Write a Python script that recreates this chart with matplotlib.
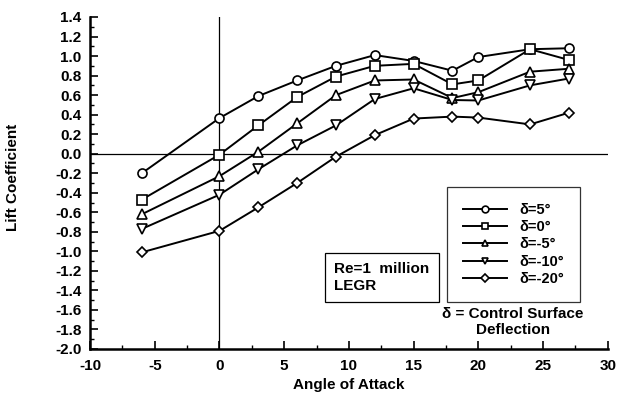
import matplotlib
matplotlib.use("Agg")
import matplotlib.pyplot as plt
from matplotlib.ticker import MultipleLocator, FormatStrFormatter

plt.rcParams["font.family"] = ["Liberation Sans", "DejaVu Sans"]
plt.rcParams["font.weight"] = "bold"
plt.rcParams["axes.unicode_minus"] = False

alpha = [-6, 0, 3, 6, 9, 12, 15, 18, 20, 24, 27]

cl_p5 = [-0.20, 0.365, 0.59, 0.75, 0.90, 1.01, 0.95, 0.85, 0.99, 1.07, 1.08]
cl_0 = [-0.47, -0.01, 0.29, 0.58, 0.79, 0.90, 0.92, 0.71, 0.75, 1.07, 0.96]
cl_m5 = [-0.62, -0.23, 0.02, 0.31, 0.60, 0.75, 0.76, 0.57, 0.63, 0.84, 0.87]
cl_m10 = [-0.77, -0.42, -0.16, 0.085, 0.29, 0.56, 0.67, 0.55, 0.545, 0.70, 0.77]
cl_m20 = [-1.01, -0.79, -0.55, -0.30, -0.03, 0.19, 0.36, 0.38, 0.37, 0.30, 0.42]

series = [
    (cl_p5, "o", "\u03b4=5\u00b0"),
    (cl_0, "s", "\u03b4=0\u00b0"),
    (cl_m5, "^", "\u03b4=-5\u00b0"),
    (cl_m10, "v", "\u03b4=-10\u00b0"),
    (cl_m20, "D", "\u03b4=-20\u00b0"),
]

fig = plt.figure(figsize=(6.17, 4.0), dpi=100)
ax = fig.add_axes([0.146, 0.1275, 0.839, 0.83])

# zero reference lines
ax.axhline(0, color="black", lw=0.9, zorder=1)
ax.axvline(0, color="black", lw=0.9, zorder=1)

for vals, mk, lab in series:
    ms = 5.5 if mk == "D" else 6.5
    ax.plot(alpha, vals, color="black", lw=1.4, marker=mk, ms=ms,
            mfc="white", mec="black", mew=1.2, label=lab, zorder=3)

ax.set_xlim(-10, 30)
ax.set_ylim(-2.0, 1.4)
ax.xaxis.set_major_locator(MultipleLocator(5))
ax.xaxis.set_minor_locator(MultipleLocator(2.5))
ax.yaxis.set_major_locator(MultipleLocator(0.2))
ax.yaxis.set_minor_locator(MultipleLocator(0.1))
ax.yaxis.set_major_formatter(FormatStrFormatter("%.1f"))

for side in ("top", "right"):
    ax.spines[side].set_visible(False)
for side in ("left", "bottom"):
    ax.spines[side].set_linewidth(1.8)

ax.tick_params(which="major", direction="in", length=6, width=1.2,
               labelsize=11)
ax.tick_params(axis="x", which="major", pad=7)
ax.tick_params(axis="y", which="major", pad=6)
ax.tick_params(which="minor", direction="in", length=3, width=1.0)

ax.set_xlabel("Angle of Attack", fontsize=11, fontweight="bold")
ax.xaxis.set_label_coords(0.5, -0.088)
ax.set_ylabel("Lift Coefficient", fontsize=11, fontweight="bold")
ax.yaxis.set_label_coords(-0.135, 0.518)

leg = ax.legend(loc="upper left", bbox_to_anchor=(0.689, 0.488),
                frameon=True, fancybox=False, edgecolor="black",
                fontsize=10.5, handlelength=3.0, borderpad=1.1,
                labelspacing=0.22, handletextpad=0.9, markerscale=0.75,
                borderaxespad=0)
leg.get_frame().set_linewidth(0.9)
for h in leg.get_lines():
    h.set_linewidth(1.4)

ax.text(0.817, 0.125, "\u03b4 = Control Surface\nDeflection", transform=ax.transAxes,
        ha="center", va="top", fontsize=11, fontweight="bold",
        linespacing=1.1)

ax.text(0.472, 0.215, "Re=1  million\nLEGR", transform=ax.transAxes,
        ha="left", va="center", fontsize=11, fontweight="bold",
        linespacing=1.3,
        bbox=dict(boxstyle="square,pad=0.6", fc="white", ec="black", lw=0.9))

fig.savefig("out.png", dpi=100)
